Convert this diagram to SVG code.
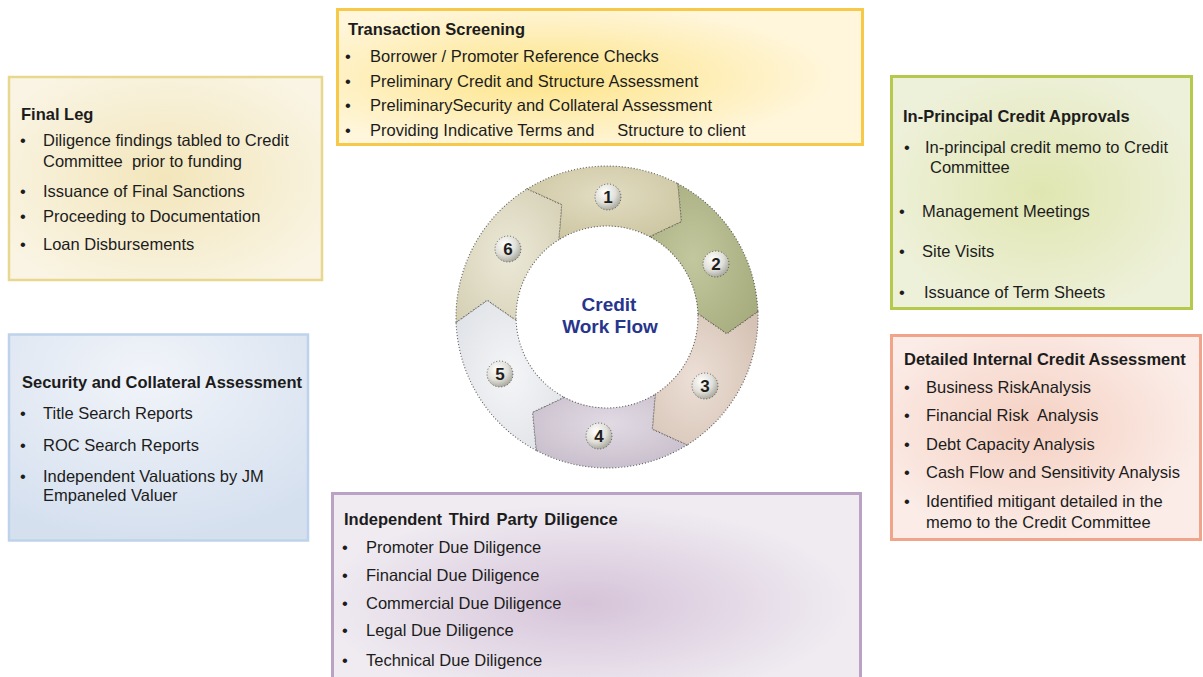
<svg xmlns="http://www.w3.org/2000/svg" width="1203" height="677" viewBox="0 0 1203 677">
<defs>
<style>
.t{font-family:"Liberation Sans",Arial,sans-serif;font-size:16.5px;fill:#1c1c1c;white-space:pre}
.h{font-family:"Liberation Sans",Arial,sans-serif;font-size:16.5px;font-weight:bold;fill:#1c1c1c;white-space:pre}
.num{font-family:"Liberation Sans",Arial,sans-serif;font-size:17px;font-weight:bold;fill:#1e1e1e;text-anchor:middle}
.ctr{font-family:"Liberation Sans",Arial,sans-serif;font-size:19px;font-weight:bold;fill:#28358c;text-anchor:middle}
.seg{stroke:#2a2a2a;stroke-width:1.1;stroke-dasharray:1 2;stroke-opacity:0.75}
.badge{fill:url(#gBadge);stroke:#2a2a2a;stroke-width:1;stroke-dasharray:1 2;stroke-opacity:0.7}
</style>
<radialGradient id="gTS" cx="0.4" cy="0.5" r="0.55"><stop offset="0" stop-color="#fde487"/><stop offset="1" stop-color="#fff6dc"/></radialGradient>
<radialGradient id="gFL" cx="0.5" cy="0.5" r="0.6"><stop offset="0" stop-color="#f3e6bb"/><stop offset="1" stop-color="#f9f4e3"/></radialGradient>
<radialGradient id="gIP" cx="0.5" cy="0.5" r="0.55"><stop offset="0" stop-color="#e0e6b1"/><stop offset="1" stop-color="#eef1da"/></radialGradient>
<radialGradient id="gDI" cx="0.45" cy="0.45" r="0.55"><stop offset="0" stop-color="#f5d0c2"/><stop offset="1" stop-color="#fbece7"/></radialGradient>
<radialGradient id="gSC" cx="0.45" cy="0.2" r="0.8"><stop offset="0" stop-color="#f1f4f9"/><stop offset="1" stop-color="#d5e0ef"/></radialGradient>
<radialGradient id="gIT" cx="0.48" cy="0.55" r="0.5"><stop offset="0" stop-color="#d6c3d9"/><stop offset="1" stop-color="#efebf1"/></radialGradient>
<radialGradient id="s1" cx="0.5" cy="0.4" r="0.7"><stop offset="0" stop-color="#e2dcc2"/><stop offset="1" stop-color="#cbc49f"/></radialGradient>
<radialGradient id="s2" cx="0.4" cy="0.5" r="0.7"><stop offset="0" stop-color="#c3c79e"/><stop offset="1" stop-color="#a5ab7c"/></radialGradient>
<radialGradient id="s3" cx="0.4" cy="0.5" r="0.7"><stop offset="0" stop-color="#ecdfd6"/><stop offset="1" stop-color="#d5c2b4"/></radialGradient>
<radialGradient id="s4" cx="0.5" cy="0.4" r="0.7"><stop offset="0" stop-color="#e1dae3"/><stop offset="1" stop-color="#c6bcca"/></radialGradient>
<radialGradient id="s5" cx="0.5" cy="0.5" r="0.7"><stop offset="0" stop-color="#f4f5f7"/><stop offset="1" stop-color="#dde0e5"/></radialGradient>
<radialGradient id="s6" cx="0.5" cy="0.5" r="0.7"><stop offset="0" stop-color="#ebe8d7"/><stop offset="1" stop-color="#d4cfb3"/></radialGradient>
<radialGradient id="gBadge" cx="0.38" cy="0.32" r="0.7"><stop offset="0" stop-color="#ffffff"/><stop offset="0.6" stop-color="#e0dfd8"/><stop offset="1" stop-color="#a9a89e"/></radialGradient>
</defs>
<rect width="1203" height="677" fill="#ffffff"/>

<g id="node-transaction-screening">
<rect x="337.5" y="9.5" width="525" height="135" fill="url(#gTS)" stroke="#f7c948" stroke-width="3"/>
<text class="h" x="348" y="35">Transaction Screening</text>
<text class="t" x="345" y="62">•</text><text class="t" x="370" y="62">Borrower / Promoter Reference Checks</text>
<text class="t" x="345" y="87">•</text><text class="t" x="370" y="87">Preliminary Credit and Structure Assessment</text>
<text class="t" x="345" y="111">•</text><text class="t" x="370" y="111">PreliminarySecurity and Collateral Assessment</text>
<text class="t" x="345" y="136">•</text><text class="t" x="370" y="136">Providing Indicative Terms and     Structure to client</text>
</g>

<g id="node-final-leg">
<rect x="9" y="77" width="313" height="203" fill="url(#gFL)" stroke="#e8d88f" stroke-width="2.5"/>
<text class="h" x="21" y="120">Final Leg</text>
<text class="t" x="20" y="146">•</text><text class="t" x="43" y="146">Diligence findings tabled to Credit</text>
<text class="t" x="43" y="167">Committee  prior to funding</text>
<text class="t" x="20" y="197">•</text><text class="t" x="43" y="197">Issuance of Final Sanctions</text>
<text class="t" x="20" y="222">•</text><text class="t" x="43" y="222">Proceeding to Documentation</text>
<text class="t" x="20" y="250">•</text><text class="t" x="43" y="250">Loan Disbursements</text>
</g>

<g id="node-in-principal">
<rect x="891.5" y="76.5" width="300" height="232" fill="url(#gIP)" stroke="#b6c94c" stroke-width="3"/>
<text class="h" x="903" y="122">In-Principal Credit Approvals</text>
<text class="t" x="904" y="153">•</text><text class="t" x="925" y="153">In-principal credit memo to Credit</text>
<text class="t" x="930" y="173">Committee</text>
<text class="t" x="899" y="217">•</text><text class="t" x="922" y="217">Management Meetings</text>
<text class="t" x="899" y="257">•</text><text class="t" x="922" y="257">Site Visits</text>
<text class="t" x="899" y="298">•</text><text class="t" x="924" y="298">Issuance of Term Sheets</text>
</g>

<g id="node-detailed-internal">
<rect x="891.5" y="335.5" width="309" height="204" fill="url(#gDI)" stroke="#f0a48a" stroke-width="3"/>
<text class="h" x="904" y="365">Detailed Internal Credit Assessment</text>
<text class="t" x="904" y="393">•</text><text class="t" x="926" y="393">Business RiskAnalysis</text>
<text class="t" x="904" y="421">•</text><text class="t" x="926" y="421">Financial Risk  Analysis</text>
<text class="t" x="904" y="450">•</text><text class="t" x="926" y="450">Debt Capacity Analysis</text>
<text class="t" x="904" y="478">•</text><text class="t" x="926" y="478">Cash Flow and Sensitivity Analysis</text>
<text class="t" x="904" y="507">•</text><text class="t" x="926" y="507">Identified mitigant detailed in the</text>
<text class="t" x="926" y="528">memo to the Credit Committee</text>
</g>

<g id="node-security-collateral">
<rect x="9" y="334.5" width="299" height="206" fill="url(#gSC)" stroke="#bfd2eb" stroke-width="2.5"/>
<text class="h" x="22" y="388">Security and Collateral Assessment</text>
<text class="t" x="20" y="419">•</text><text class="t" x="43" y="419">Title Search Reports</text>
<text class="t" x="20" y="451">•</text><text class="t" x="43" y="451">ROC Search Reports</text>
<text class="t" x="20" y="482">•</text><text class="t" x="43" y="482">Independent Valuations by JM</text>
<text class="t" x="43" y="501">Empaneled Valuer</text>
</g>

<g id="node-third-party">
<rect x="332.5" y="493.5" width="528" height="200" fill="url(#gIT)" stroke="#b9a2c4" stroke-width="3"/>
<text class="h" x="344" y="525" style="word-spacing:2px">Independent Third Party Diligence</text>
<text class="t" x="342" y="553">•</text><text class="t" x="366" y="553">Promoter Due Diligence</text>
<text class="t" x="342" y="581">•</text><text class="t" x="366" y="581">Financial Due Diligence</text>
<text class="t" x="342" y="609">•</text><text class="t" x="366" y="609">Commercial Due Diligence</text>
<text class="t" x="342" y="636">•</text><text class="t" x="366" y="636">Legal Due Diligence</text>
<text class="t" x="342" y="666">•</text><text class="t" x="366" y="666">Technical Due Diligence</text>
</g>

<g id="node-credit-work-flow">
<path class="seg" fill="url(#s1)" d="M527.0,189.0 A151,151 0 0 1 677.9,183.7 L681.5,221.7 L649.7,236.7 A91,91 0 0 0 558.8,239.8 L561.7,204.8 Z"/>
<path class="seg" fill="url(#s2)" d="M677.9,183.7 A151,151 0 0 1 757.9,311.7 L726.8,333.8 L697.9,313.8 A91,91 0 0 0 649.7,236.7 L681.5,221.7 Z"/>
<path class="seg" fill="url(#s3)" d="M757.9,311.7 A151,151 0 0 1 687.0,445.0 L652.3,429.2 L655.2,394.2 A91,91 0 0 0 697.9,313.8 L726.8,333.8 Z"/>
<path class="seg" fill="url(#s4)" d="M687.0,445.0 A151,151 0 0 1 536.1,450.3 L532.5,412.3 L564.3,397.3 A91,91 0 0 0 655.2,394.2 L652.3,429.2 Z"/>
<path class="seg" fill="url(#s5)" d="M536.1,450.3 A151,151 0 0 1 456.1,322.3 L487.2,300.2 L516.1,320.2 A91,91 0 0 0 564.3,397.3 L532.5,412.3 Z"/>
<path class="seg" fill="url(#s6)" d="M456.1,322.3 A151,151 0 0 1 527.0,189.0 L561.7,204.8 L558.8,239.8 A91,91 0 0 0 516.1,320.2 L487.2,300.2 Z"/>
<circle class="badge" cx="608" cy="197" r="13"/><text class="num" x="608" y="203">1</text>
<circle class="badge" cx="716" cy="264" r="13"/><text class="num" x="716" y="270">2</text>
<circle class="badge" cx="705" cy="386" r="13"/><text class="num" x="705" y="392">3</text>
<circle class="badge" cx="599" cy="436" r="13"/><text class="num" x="599" y="442">4</text>
<circle class="badge" cx="500" cy="374" r="13"/><text class="num" x="500" y="380">5</text>
<circle class="badge" cx="508" cy="249" r="13"/><text class="num" x="508" y="255">6</text>
<text class="ctr" x="609" y="311">Credit</text>
<text class="ctr" x="610" y="333">Work Flow</text>
</g>

<g id="connectors"/>
</svg>
